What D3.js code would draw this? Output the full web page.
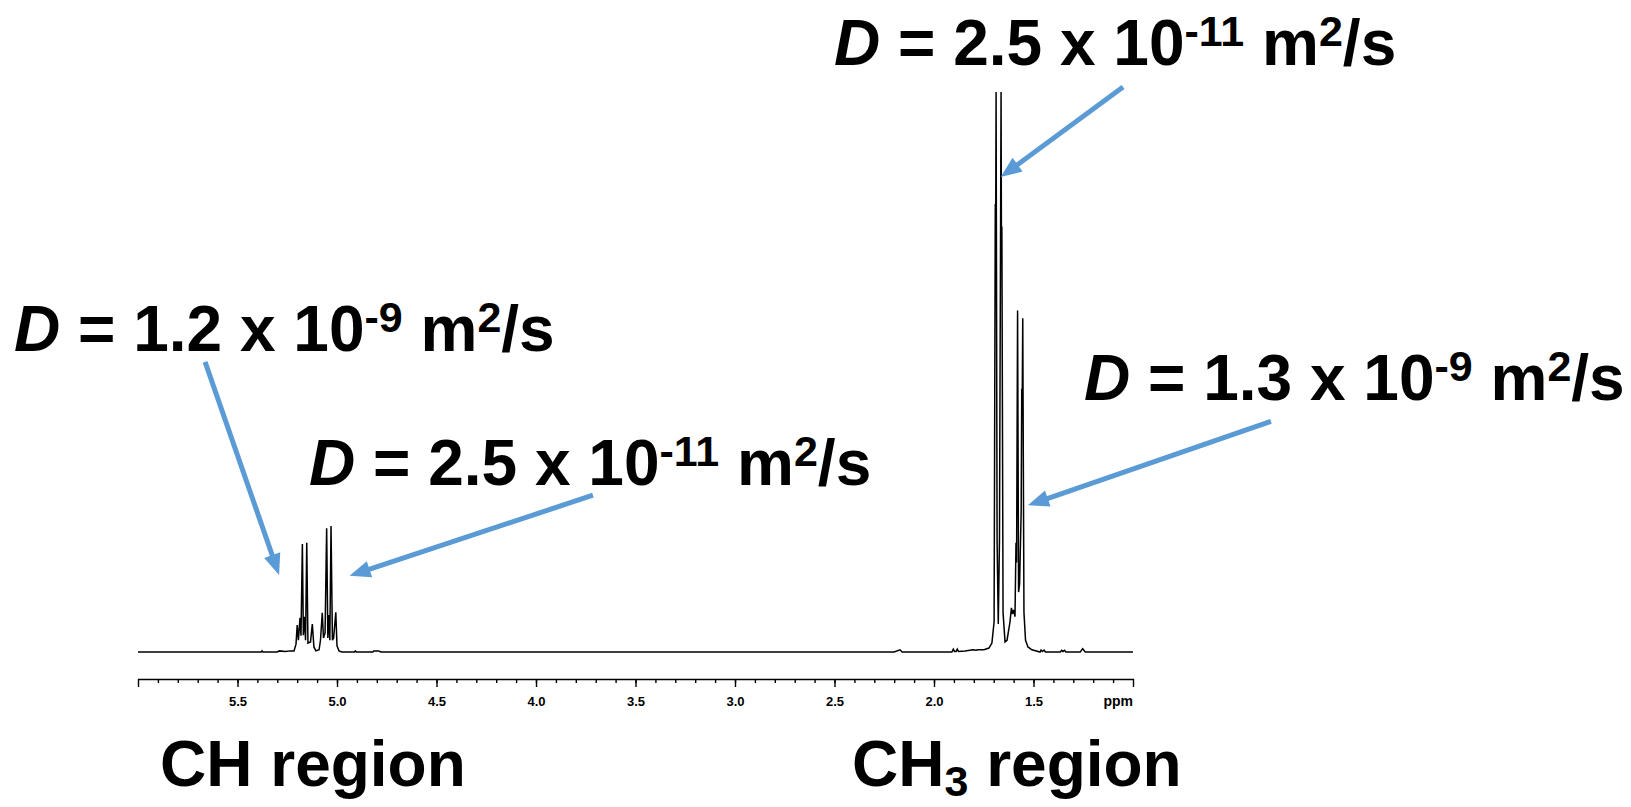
<!DOCTYPE html>
<html>
<head>
	<meta charset="UTF-8">
	<title>index</title>
	<script src="https://cdn.jsdelivr.net/npm/d3@7"></script>
	<style>
		html, body { margin:0; padding:0; background:#fff; }
		svg { display:block; font-family:"Liberation Sans", Arial, sans-serif; }
		text { white-space:pre; }
		.axis path, .axis line { stroke:#000; stroke-width:1.4; }
		.axis text { font-size:13px; font-weight:bold; fill:#000; }
	</style>
</head>
<body>
<script>
	// 1H spectrum, [ppm, relative intensity] (tallest lines clipped at 100)
	var spectrum = [
		[6.000,0],[5.600,0],[5.380,0],[5.377,0.2],[5.372,0],[5.300,0],[5.290,0.2],[5.260,0.1],[5.236,0.2],
		[5.216,0.2],[5.206,1.4],[5.200,4.8],[5.194,2.1],[5.186,6.1],[5.181,2.9],[5.174,19.3],[5.169,3.0],
		[5.163,6.3],[5.158,2.1],[5.152,19.5],[5.146,1.6],[5.133,1.8],[5.124,5.0],[5.116,0.9],[5.106,0.2],
		[5.090,0.4],[5.083,2.1],[5.074,7.0],[5.068,2.5],[5.060,3.4],[5.052,22.1],[5.046,2.5],[5.042,6.6],
		[5.036,2.1],[5.030,22.5],[5.023,2.1],[5.017,2.5],[5.006,7.1],[5.000,1.1],[4.990,0.2],[4.975,0],
		[4.912,0],[4.908,0.2],[4.903,0],[4.820,0],[4.815,0.2],[4.790,0.2],[4.780,0],
		[2.200,0],[2.171,0.4],[2.160,0],[1.970,0],[1.910,0],[1.903,0.5],[1.897,0.1],[1.889,0.1],[1.883,0.5],
		[1.877,0.1],[1.844,0.2],[1.804,0.4],[1.789,0.3],[1.779,0.4],[1.749,0.4],[1.724,0.7],[1.709,1.6],
		[1.698,5.4],[1.692,80],[1.690,75],[1.688,100],[1.683,20],[1.677,5],[1.671,20],[1.663,100],
		[1.661,71],[1.659,76],[1.653,7],[1.643,1.8],[1.633,2.1],[1.618,5.4],[1.611,7.9],[1.606,6.8],
		[1.600,7.5],[1.593,6.3],[1.588,19.5],[1.585,16],[1.580,61],[1.575,10.7],[1.570,12.1],[1.562,25],
		[1.559,47],[1.557,43],[1.554,59.6],[1.548,7.1],[1.540,2.1],[1.528,0.9],[1.508,0.4],[1.467,0],
		[1.462,0.35],[1.455,0.1],[1.447,0.35],[1.440,0],[1.365,0],[1.359,0.3],[1.352,0.1],[1.344,0.3],
		[1.337,0],[1.265,0],[1.253,0.6],[1.240,0],[1.000,0]
	];

	var majorTicks = [5.5, 5.0, 4.5, 4.0, 3.5, 3.0, 2.5, 2.0, 1.5];
	var minorTicks = d3.range(11, 60).map(function(d) { return d / 10; });
	var axisUnit = "ppm";

	// annotations: diffusion coefficients and the arrows to the peaks they belong to
	var labelMantissa = ["1.2", "2.5", "2.5", "1.3"];
	var labelExponent = ["-9", "-11", "-11", "-9"];
	var arrowFrom = [[5.663, 51.8], [3.714, 28.0], [1.050, 100.9], [0.307, 41.2]];
	var arrowTo = [[5.291, 13.75], [4.937, 13.6], [1.665, 84.8], [1.528, 26.2]];
	var regionNames = ["CH", "CH3"];

	var W = 1631, H = 807;
	var labelPos = [[14, 351], [309, 485], [834, 65], [1084, 400]];
	var regionPos = [[160, 786], [852, 786]];
	var F = 64, supF = 43;
	var blue = "#5b9bd5";

	var x = d3.scaleLinear().domain([6.0, 1.0]).range([138, 1133]);
	var y = d3.scaleLinear().domain([0, 100]).range([652, 92]);
	var axisY = 679;

	var svg = d3.select("body").append("svg").attr("width", W).attr("height", H);

	// spectrum trace
	var line = d3.line().x(function(d) { return x(d[0]); }).y(function(d) { return y(d[1]); });
	svg.append("path").datum(spectrum).attr("d", line)
		.attr("fill", "none").attr("stroke", "#000").attr("stroke-width", 1.5);

	// ppm axis
	var gMinor = svg.append("g").attr("class", "axis").attr("transform", "translate(0," + axisY + ")")
		.call(d3.axisBottom(x).tickValues(minorTicks).tickSize(4).tickSizeOuter(0).tickFormat(""));
	gMinor.select(".domain").remove();
	svg.append("g").attr("class", "axis").attr("transform", "translate(0," + axisY + ")")
		.call(d3.axisBottom(x).tickValues(majorTicks).tickSize(8).tickSizeOuter(8).tickPadding(10)
			.tickFormat(d3.format(".1f")));
	svg.append("text").attr("x", x(1.0)).attr("y", axisY + 27).attr("text-anchor", "end")
		.attr("font-size", 14).attr("font-weight", "bold").text(axisUnit);

	// arrows
	var headLen = 21, headHalf = 8.5;
	for (var i = 0; i < arrowFrom.length; i++) {
		var x0 = x(arrowFrom[i][0]), y0 = y(arrowFrom[i][1]);
		var x1 = x(arrowTo[i][0]), y1 = y(arrowTo[i][1]);
		var len = Math.sqrt((x1 - x0) * (x1 - x0) + (y1 - y0) * (y1 - y0));
		var ux = (x1 - x0) / len, uy = (y1 - y0) / len;
		var bx = x1 - ux * headLen, by = y1 - uy * headLen;
		svg.append("line").attr("x1", x0).attr("y1", y0).attr("x2", bx + ux * 2).attr("y2", by + uy * 2)
			.attr("stroke", blue).attr("stroke-width", 5);
		svg.append("path")
			.attr("d", "M" + x1 + "," + y1 + "L" + (bx - uy * headHalf) + "," + (by + ux * headHalf) +
				"L" + (bx + uy * headHalf) + "," + (by - ux * headHalf) + "Z")
			.attr("fill", blue);
	}

	// D labels
	for (var j = 0; j < labelMantissa.length; j++) {
		var t = svg.append("text").attr("x", labelPos[j][0]).attr("y", labelPos[j][1])
			.attr("font-size", F).attr("font-weight", "bold").attr("fill", "#000");
		t.append("tspan").attr("font-style", "italic").text("D");
		t.append("tspan").text(" = " + labelMantissa[j] + " x 10");
		t.append("tspan").attr("font-size", supF).attr("dy", -19).text(labelExponent[j]);
		t.append("tspan").attr("dy", 19).text(" m");
		t.append("tspan").attr("font-size", supF).attr("dy", -19).text("2");
		t.append("tspan").attr("dy", 19).text("/s");
	}

	// region names
	for (var k = 0; k < regionNames.length; k++) {
		var r = svg.append("text").attr("x", regionPos[k][0]).attr("y", regionPos[k][1])
			.attr("font-size", F).attr("font-weight", "bold").attr("fill", "#000");
		var nm = regionNames[k];
		if (nm.match(/\d$/)) {
			r.append("tspan").text(nm.slice(0, -1));
			r.append("tspan").attr("font-size", supF).attr("dy", 10).text(nm.slice(-1));
			r.append("tspan").attr("dy", -10).text(" region");
		} else {
			r.append("tspan").text(nm + " region");
		}
	}
</script>
</body>
</html>
